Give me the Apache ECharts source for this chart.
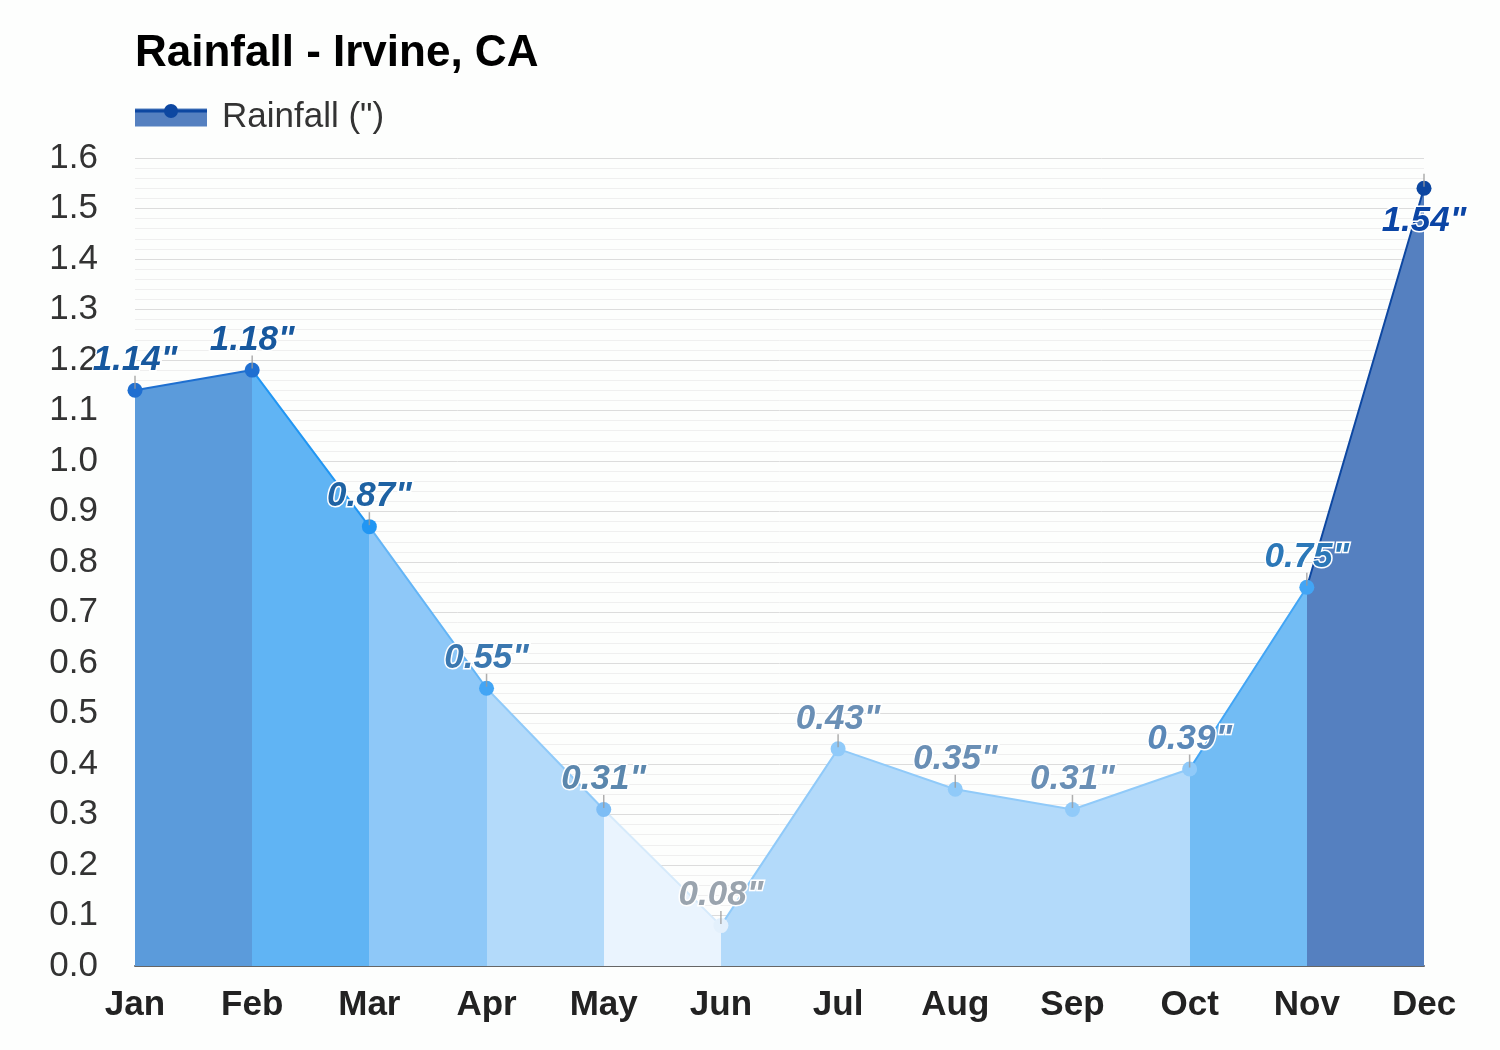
<!DOCTYPE html>
<html><head><meta charset="utf-8">
<script src="https://cdn.jsdelivr.net/npm/echarts@6/dist/echarts.min.js"></script>
<style>html,body{margin:0;padding:0;background:#fdfefd}#c{width:1500px;height:1050px}</style>
</head><body><div id="c"></div>
<script>
const months = ['Jan','Feb','Mar','Apr','May','Jun','Jul','Aug','Sep','Oct','Nov','Dec'];
const rainfall = [1.14,1.18,0.87,0.55,0.31,0.08,0.43,0.35,0.31,0.39,0.75,1.54];
const dotColors = ['#1f6fd1','#1f6fd1','#2196f3','#42a5f5','#7dbdf5','#e3f0fc','#90caf9','#90caf9','#90caf9','#90caf9','#42a5f5','#0d47a1'];
const labelColors = ['#17589e','#17589e','#1e62a3','#3b78b0','#5b87ad','#9aa4ae','#6a8fb5','#6a8fb5','#6a8fb5','#5a88b8','#2c78b8','#0b45a5'];
// segment colors (segment i spans month i -> i+1)
const areaColors = ['#5b9bdb','#60b4f4','#8ec8f8','#b3dafa','#eaf4fe','#b3dafa','#b3dafa','#b3dafa','#b3dafa','#72bcf4','#5580c0'];
const lineColors = ['#1e6fd0','#2196f3','#64b5f6','#90caf9','#d6eafb','#90caf9','#90caf9','#90caf9','#90caf9','#42a5f5','#0d47a1'];

const FONT = 'Arial, "Liberation Sans", sans-serif';
const chart = echarts.init(document.getElementById('c'));
const piecesFor = cols => cols.map((c,i)=>({gte:i, lt:i+1, color:c}));
chart.setOption({
  backgroundColor:'#fdfefd',
  animation:false,
  title:{text:'Rainfall - Irvine, CA', left:130, top:27, textStyle:{fontFamily:FONT, fontSize:44, fontWeight:'bold', color:'#000'}},
  legend:{left:130, top:95, itemWidth:72, itemHeight:18, itemGap:10, icon:'rect',
    data:[{name:'Rainfall (")', itemStyle:{color:'#5580c0'}}],
    textStyle:{fontFamily:FONT, fontSize:35, color:'#333', padding:[0,0,0,10]}},
  graphic:[
    {type:'line', shape:{x1:135,y1:111,x2:207,y2:111}, style:{stroke:'#0d47a1', lineWidth:3}, z:100},
    {type:'circle', shape:{cx:171,cy:111,r:7}, style:{fill:'#0d47a1'}, z:101}
  ],
  grid:{left:135, right:76, top:158, bottom:84},
  visualMap:[
    {show:false, type:'piecewise', dimension:0, seriesIndex:0, pieces:piecesFor(areaColors)},
    {show:false, type:'piecewise', dimension:0, seriesIndex:1, pieces:piecesFor(lineColors)}
  ],
  xAxis:{type:'category', data:months, boundaryGap:false,
    axisLine:{lineStyle:{color:'#666', width:2}}, axisTick:{show:false},
    axisLabel:{fontFamily:FONT, fontSize:35, fontWeight:'bold', color:'#222', margin:22},
    splitLine:{show:false}},
  yAxis:{type:'value', min:0, max:1.6, interval:0.1,
    axisLine:{show:false}, axisTick:{show:false},
    axisLabel:{fontFamily:FONT, fontSize:35, color:'#333', margin:37, formatter:v=>v.toFixed(1)},
    splitLine:{lineStyle:{color:'#dcdcdc', width:1}},
    minorTick:{show:false, splitNumber:5},
    minorSplitLine:{show:true, lineStyle:{color:'#efefef', width:1}}},
  series:[
    {name:'Rainfall (")', type:'line', data:rainfall, symbol:'none', lineStyle:{width:0},
      areaStyle:{opacity:1}, z:2, silent:true},
    {name:'line', type:'line', data:rainfall.map((v,i)=>({value:v,
        itemStyle:{color:dotColors[i]},
        label:{color:labelColors[i], position: i===11?'bottom':'top', distance: i===11?8:5}})),
      symbol:'circle', symbolSize:15, lineStyle:{width:2}, z:3,
      label:{show:true, formatter:p=>p.value.toFixed(2)+'"', fontFamily:FONT, fontSize:35,
        fontWeight:'bold', fontStyle:'italic', textBorderColor:'#fff', textBorderWidth:3}},
    {name:'tick', type:'scatter', data:rainfall, symbol:'rect', symbolSize:[1.5,13], symbolOffset:[0,-8],
      itemStyle:{color:'#9a9a9a'}, z:4, silent:true}
  ]
});
</script></body></html>
